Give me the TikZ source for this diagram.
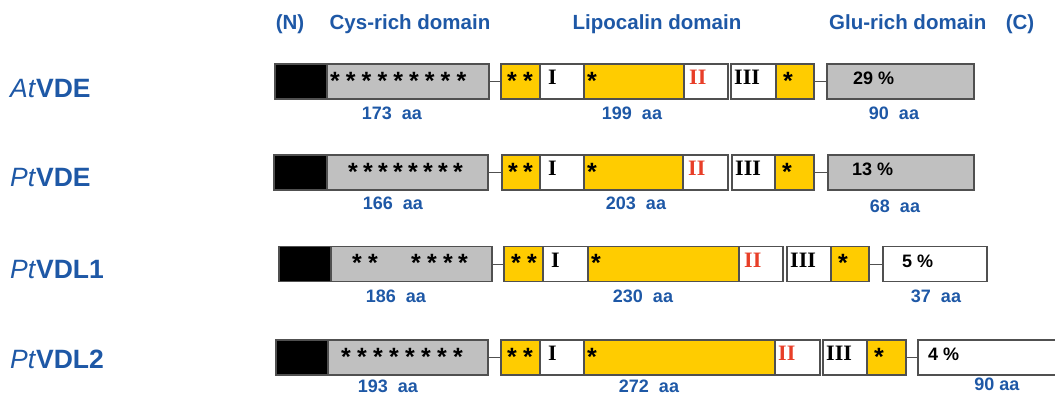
\documentclass[tikz,border=0pt]{standalone}
\usepackage{fontspec}
\setmainfont{Liberation Sans}
\newfontfamily\romfont{Liberation Serif}
\usepackage{tikz}
\usetikzlibrary{positioning}
\definecolor{labelblue}{RGB}{30,88,166}
\definecolor{motifred}{RGB}{232,62,40}
\definecolor{lipoyellow}{RGB}{255,204,0}
\definecolor{domgray}{RGB}{192,192,192}
\definecolor{edgegray}{RGB}{80,80,80}

\begin{document}
\begin{tikzpicture}[x=1pt, y=-1pt,
    dom/.style={draw=edgegray, line width=1.3pt, inner sep=0pt, outer sep=0pt,
        minimum height=35pt, anchor=north west},
    sig/.style={dom, fill=black},
    cys/.style={dom, fill=domgray},
    lipo/.style={dom, fill=lipoyellow},
    motif/.style={dom, fill=white},
    linker/.style={draw=edgegray, line width=1pt},
    hdr/.style={font=\fontsize{20.5}{24}\selectfont\bfseries, text=labelblue, anchor=base, inner sep=0pt},
    protlbl/.style={font=\fontsize{26.5}{30}\selectfont, text=labelblue, anchor=base west, inner sep=0pt},
    aalbl/.style={font=\fontsize{18}{20}\selectfont\bfseries, text=labelblue, anchor=base, inner sep=0pt},
    astx/.style={font=\fontsize{25}{26}\selectfont\bfseries, anchor=base, inner sep=0pt},
    roman/.style={font=\fontsize{22}{24}\romfont\bfseries, anchor=base west, inner sep=0pt},
    pct/.style={font=\fontsize{18}{20}\selectfont\bfseries, anchor=base west, inner sep=0pt}]

    \useasboundingbox (0,0) rectangle (1055,397);

    % Header
    \node[hdr] (hdr-n)    at (290,29)  {(N)};
    \node[hdr] (hdr-cys)  at (410,29)  {Cys-rich domain};
    \node[hdr] (hdr-lipo) at (657,29)  {Lipocalin domain};
    \node[hdr, anchor=base west] (hdr-glu) at (829,29) {Glu-rich domain};
    \node[hdr] (hdr-c)    at (1020,29) {(C)};

    % AtVDE
    \node[protlbl] (at) at (10,97) {\textit{At}\textbf{VDE}};
    \node[sig,   minimum width=52pt]  (at-sig) at (275,64) {};
    \node[cys,   minimum width=162pt] (at-cys) at (327,64) {};
    \node[lipo,  minimum width=39pt]  (at-l1)  at (501,64) {};
    \node[motif, minimum width=44pt]  (at-m1)  at (540,64) {};
    \node[lipo,  minimum width=100pt] (at-l2)  at (584,64) {};
    \node[motif, minimum width=44pt]  (at-m2)  at (684,64) {};
    \node[motif, minimum width=45pt]  (at-m3)  at (731,64) {};
    \node[lipo,  minimum width=38pt]  (at-l3)  at (776,64) {};
    \node[cys,   minimum width=147pt] (at-glu) at (827,64) {};
    \draw[linker] (at-cys.east) -- (at-l1.west);
    \draw[linker] (at-l3.east) -- (at-glu.west);
    \foreach \s in {0,...,8}
        \node[astx] (at-c\s) at (335+15.8*\s,89) {*};
    \node[astx] (at-s1) at (512,89) {*};
    \node[astx] (at-s2) at (528,89) {*};
    \node[astx] (at-s3) at (592,89) {*};
    \node[astx] (at-s4) at (788,89) {*};
    \node[roman] (at-i)   at (548,84) {I};
    \node[roman, text=motifred] (at-ii) at (689,84) {II};
    \node[roman] (at-iii) at (734,84) {III};
    \node[pct] (at-pct) at (853,84) {29 \%};
    \node[aalbl] (at-aa1) at (392,119) {173\ \ aa};
    \node[aalbl] (at-aa2) at (632,119) {199\ \ aa};
    \node[aalbl] (at-aa3) at (894,119) {90\ \ aa};

    % PtVDE
    \node[protlbl] (pt) at (10,186) {\textit{Pt}\textbf{VDE}};
    \node[sig,   minimum width=53pt]  (pt-sig) at (274,155) {};
    \node[cys,   minimum width=161pt] (pt-cys) at (327,155) {};
    \node[lipo,  minimum width=38pt]  (pt-l1)  at (502,155) {};
    \node[motif, minimum width=44pt]  (pt-m1)  at (540,155) {};
    \node[lipo,  minimum width=99pt]  (pt-l2)  at (584,155) {};
    \node[motif, minimum width=45pt]  (pt-m2)  at (683,155) {};
    \node[motif, minimum width=43pt]  (pt-m3)  at (732,155) {};
    \node[lipo,  minimum width=39pt]  (pt-l3)  at (775,155) {};
    \node[cys,   minimum width=146pt] (pt-glu) at (828,155) {};
    \draw[linker] (pt-cys.east) -- (pt-l1.west);
    \draw[linker] (pt-l3.east) -- (pt-glu.west);
    \foreach \s in {0,...,7}
        \node[astx] (pt-c\s) at (353+15*\s,180) {*};
    \node[astx] (pt-s1) at (513,180) {*};
    \node[astx] (pt-s2) at (528,180) {*};
    \node[astx] (pt-s3) at (592,180) {*};
    \node[astx] (pt-s4) at (787,180) {*};
    \node[roman] (pt-i)   at (548,175) {I};
    \node[roman, text=motifred] (pt-ii) at (688,175) {II};
    \node[roman] (pt-iii) at (735,175) {III};
    \node[pct] (pt-pct) at (852,175) {13 \%};
    \node[aalbl] (pt-aa1) at (393,209) {166\ \ aa};
    \node[aalbl] (pt-aa2) at (636,209) {203\ \ aa};
    \node[aalbl] (pt-aa3) at (895,212) {68\ \ aa};

    % PtVDL1
    \node[protlbl] (vdl1) at (10,278) {\textit{Pt}\textbf{VDL1}};
    \node[sig,   minimum width=52pt]  (vdl1-sig) at (279,246.5) {};
    \node[cys,   minimum width=161pt] (vdl1-cys) at (331,246.5) {};
    \node[lipo,  minimum width=39pt]  (vdl1-l1)  at (504,246.5) {};
    \node[motif, minimum width=45pt]  (vdl1-m1)  at (543,246.5) {};
    \node[lipo,  minimum width=151pt] (vdl1-l2)  at (588,246.5) {};
    \node[motif, minimum width=44pt]  (vdl1-m2)  at (739,246.5) {};
    \node[motif, minimum width=44pt]  (vdl1-m3)  at (787,246.5) {};
    \node[lipo,  minimum width=38pt]  (vdl1-l3)  at (831,246.5) {};
    \node[motif, minimum width=104pt] (vdl1-glu) at (883,246.5) {};
    \draw[linker] (vdl1-cys.east) -- (vdl1-l1.west);
    \draw[linker] (vdl1-l3.east) -- (vdl1-glu.west);
    \foreach \x [count=\s] in {357,373,416,432,448,463}
        \node[astx] (vdl1-c\s) at (\x,271.5) {*};
    \node[astx] (vdl1-s1) at (516,271.5) {*};
    \node[astx] (vdl1-s2) at (532,271.5) {*};
    \node[astx] (vdl1-s3) at (596,271.5) {*};
    \node[astx] (vdl1-s4) at (843,271.5) {*};
    \node[roman] (vdl1-i)   at (551,267) {I};
    \node[roman, text=motifred] (vdl1-ii) at (744,267) {II};
    \node[roman] (vdl1-iii) at (790,267) {III};
    \node[pct] (vdl1-pct) at (902,267) {5 \%};
    \node[aalbl] (vdl1-aa1) at (396,302) {186\ \ aa};
    \node[aalbl] (vdl1-aa2) at (643,302) {230\ \ aa};
    \node[aalbl] (vdl1-aa3) at (936,302) {37\ \ aa};

    % PtVDL2
    \node[protlbl] (vdl2) at (10,368) {\textit{Pt}\textbf{VDL2}};
    \node[sig,   minimum width=52pt]  (vdl2-sig) at (276,340) {};
    \node[cys,   minimum width=160pt] (vdl2-cys) at (328,340) {};
    \node[lipo,  minimum width=39pt]  (vdl2-l1)  at (501,340) {};
    \node[motif, minimum width=44pt]  (vdl2-m1)  at (540,340) {};
    \node[lipo,  minimum width=191pt] (vdl2-l2)  at (584,340) {};
    \node[motif, minimum width=45pt]  (vdl2-m2)  at (775,340) {};
    \node[motif, minimum width=44pt]  (vdl2-m3)  at (823,340) {};
    \node[lipo,  minimum width=39pt]  (vdl2-l3)  at (867,340) {};
    \node[motif, draw=none, minimum width=137pt] (vdl2-glu) at (918,340) {};
    \draw[dom] (vdl2-glu.north east) -- (vdl2-glu.north west)
        -- (vdl2-glu.south west) -- (vdl2-glu.south east);
    \draw[linker] (vdl2-cys.east) -- (vdl2-l1.west);
    \draw[linker] (vdl2-l3.east) -- (vdl2-glu.west);
    \foreach \s in {0,...,7}
        \node[astx] (vdl2-c\s) at (346+16*\s,365) {*};
    \node[astx] (vdl2-s1) at (512,365) {*};
    \node[astx] (vdl2-s2) at (528,365) {*};
    \node[astx] (vdl2-s3) at (592,365) {*};
    \node[astx] (vdl2-s4) at (879,365) {*};
    \node[roman] (vdl2-i)   at (548,360) {I};
    \node[roman, text=motifred] (vdl2-ii) at (778,360) {II};
    \node[roman] (vdl2-iii) at (826,360) {III};
    \node[pct] (vdl2-pct) at (928,360) {4 \%};
    \node[aalbl] (vdl2-aa1) at (388,392) {193\ \ aa};
    \node[aalbl] (vdl2-aa2) at (649,392) {272\ \ aa};
    \node[aalbl] (vdl2-aa3) at (997,390) {90 aa};
\end{tikzpicture}
\end{document}
